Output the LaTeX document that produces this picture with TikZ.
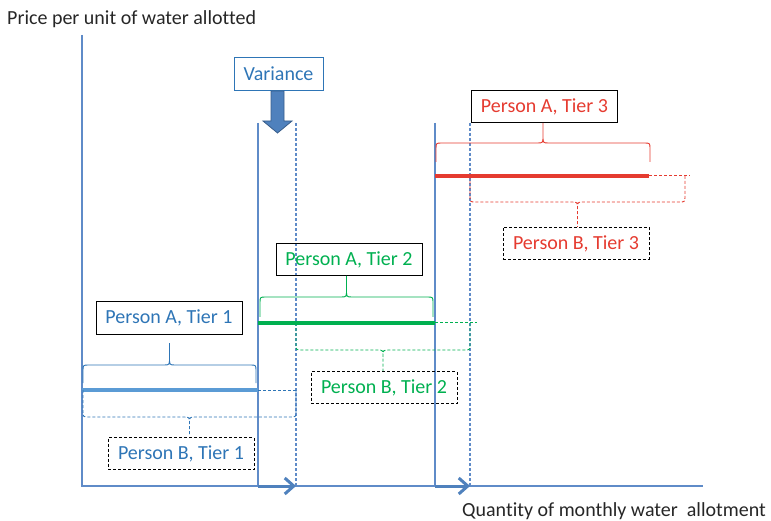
\documentclass[tikz,border=0pt]{standalone}
\usepackage{fontspec}
\setmainfont{Carlito}[Ligatures=NoCommon]
\usetikzlibrary{arrows.meta}
\definecolor{axisblue}{HTML}{5F8BC8}
\definecolor{tonebl}{HTML}{5B9BD5}
\definecolor{txtblue}{HTML}{2E75B6}
\definecolor{tgreen}{HTML}{00B050}
\definecolor{tred}{HTML}{E53B30}
\definecolor{varfill}{HTML}{4F81BD}
\definecolor{varedge}{HTML}{385D8A}
\newcommand\tierbrace[7]{%
 \draw[#1] (#2,#4) -- (#2,{#5+#7*6}) .. controls (#2,#5) .. ({#2+6},#5)
   -- ({(#2+#3)/2-6},#5) .. controls ({(#2+#3)/2},#5) .. ({(#2+#3)/2},{#5-#7*7})
   -- ({(#2+#3)/2},#6)
   ({(#2+#3)/2},{#5-#7*7}) .. controls ({(#2+#3)/2},#5) .. ({(#2+#3)/2+6},#5)
   -- ({#3-6},#5) .. controls (#3,#5) .. (#3,{#5+#7*6}) -- (#3,#4);}
\tikzset{
  lbl/.style={font=\fontsize{20}{24}\selectfont, inner sep=0pt, minimum height=32pt, minimum width=146pt},
  abox/.style={lbl, draw=black, line width=1pt},
  bbox/.style={lbl, draw=black, line width=1pt, dash pattern=on 3pt off 2pt},
  dsh/.style={dash pattern=on 3pt off 2pt},
  bracesty/.style={line width=0.9pt},
  tierline/.style={line width=3.5pt},
  vline/.style={axisblue, line width=1.2pt},
  vdash/.style={axisblue, line width=1.2pt, dsh},
  qshift/.style={draw=varfill, line width=3pt, -{Straight Barb[length=9pt,width=16pt,line width=3pt]}},
}
\begin{document}
\begin{tikzpicture}[x=1pt,y=-1pt]
\useasboundingbox (0,0) rectangle (771,521);
% titles
\node[anchor=base west, inner sep=0pt, font=\fontsize{20}{24}\selectfont, text=black!85] (ylab) at (7,25) {Price per unit of water allotted};
\node[anchor=base west, inner sep=0pt, font=\fontsize{20}{24}\selectfont, text=black!85] (xlab) at (462,516) {Quantity of monthly water\ \ allotment};
% axes
\coordinate (o) at (82,486);
\coordinate (ytop) at (82,35);
\coordinate (xend) at (703,486);
\draw[vline] (ytop) -- (o) -- (xend);
% tier boundaries
\coordinate (a1t) at (258,123); \coordinate (a1b) at (258,486);
\coordinate (b1t) at (296,123); \coordinate (b1b) at (296,486);
\coordinate (a2t) at (435,123); \coordinate (a2b) at (435,486);
\coordinate (b2t) at (470,123); \coordinate (b2b) at (470,486);
\draw[vline] (a1t) -- (a1b);
\draw[vline] (a2t) -- (a2b);
\draw[vdash] (b1t) -- (b1b);
\draw[vdash] (b2t) -- (b2b);
\draw[qshift] (a1b) -- (b1b);
\draw[qshift] (a2b) -- (b2b);
% variance
\node[lbl, draw=txtblue, line width=1pt, text=txtblue, minimum width=89pt, minimum height=33pt] (var) at (278.5,74) {Variance};
\filldraw[fill=varfill, draw=varedge, line width=0.8pt]
  (271,91) -- (284,91) -- (284,121) -- (292,121) -- (277.5,133) -- (263,121) -- (271,121) -- cycle;
% tier 1
\draw[tierline, tonebl] (82,390) -- (258,390);
\draw[txtblue, line width=1pt, dsh] (258,390) -- (296,390);
\node[abox, text=txtblue] (pa1) at (169,318) {Person A, Tier 1};
\node[bbox, text=txtblue] (pb1) at (181,453.5) {Person B, Tier 1};
\tierbrace{bracesty, txtblue}{83}{256}{383}{365}{343}{1}
\tierbrace{bracesty, txtblue, dsh}{83}{296}{390}{417}{436}{-1}
% tier 2
\draw[tierline, tgreen] (258,323) -- (435,323);
\draw[tgreen, line width=1pt, dsh] (435,323) -- (477,323);
\node[abox, text=tgreen] (pa2) at (349,259.5) {Person A, Tier 2};
\node[bbox, text=tgreen] (pb2) at (384,387.5) {Person B, Tier 2};
\tierbrace{bracesty, tgreen}{260}{433}{317}{297}{276}{1}
\tierbrace{bracesty, tgreen, dsh}{296}{470}{323}{350}{371}{-1}
% tier 3
\draw[tierline, tred] (435,176) -- (649,176);
\draw[tred, line width=1pt, dsh] (649,176) -- (690,176);
\node[abox, text=tred] (pa3) at (544.5,107) {Person A, Tier 3};
\node[bbox, text=tred] (pb3) at (576,243.5) {Person B, Tier 3};
\tierbrace{bracesty, tred}{436}{650}{162}{143}{123}{1}
\tierbrace{bracesty, tred, dsh}{470}{685}{176}{202}{227}{-1}
\end{tikzpicture}
\end{document}
